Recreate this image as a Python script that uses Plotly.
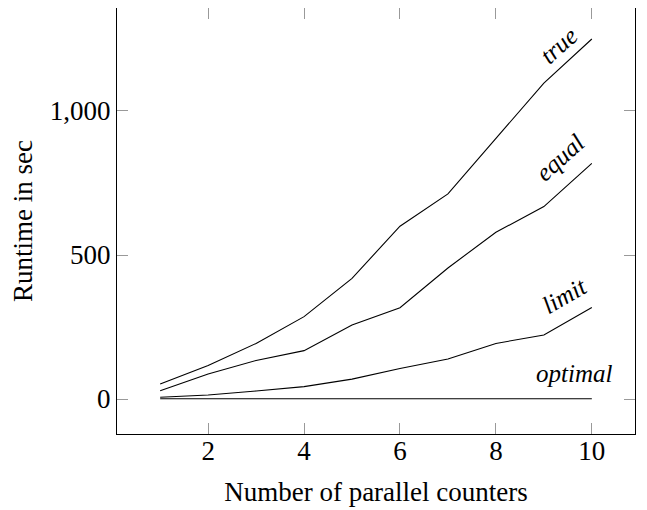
import plotly.graph_objects as go

counters = [1, 2, 3, 4, 5, 6, 7, 8, 9, 10]
true_rt = [52, 116, 193, 286, 419, 600, 712, 903, 1097, 1250]
equal_rt = [29, 87, 134, 168, 257, 317, 455, 579, 668, 818]
limit_rt = [6, 14, 28, 43, 69, 106, 139, 193, 222, 318]
optimal_rt = [1, 1, 1, 1, 1, 1, 1, 1, 1, 1]

series = [("true", true_rt, -42, -33, -7),
          ("equal", equal_rt, -42, -32, 6),
          ("limit", limit_rt, -30, -27, 12),
          ("optimal", optimal_rt, 0, -18, 25)]

font = "Liberation Serif, Times New Roman, serif"
fig = go.Figure()
annotations = []
for name, ys, ang, dx, dy in series:
    fig.add_trace(go.Scatter(x=counters, y=ys, mode="lines", name=name,
                             line=dict(color="black", width=1.1)))
    annotations.append(dict(x=counters[-1], y=ys[-1], xref="x", yref="y",
                            text="<i>%s</i>" % name, showarrow=False,
                            xanchor="center", yanchor="middle",
                            textangle=ang, xshift=dx, yshift=dy,
                            font=dict(family=font, size=25, color="black")))

axis_common = dict(showline=True, linecolor="black", linewidth=1.2, mirror="ticks",
                   ticks="inside", ticklen=11, tickcolor="#999", tickwidth=1,
                   showgrid=False, zeroline=False, automargin=False,
                   tickfont=dict(family=font, size=27, color="black"))

# page body has an 8px margin; figure sized to fit the window
fig.update_layout(
    width=639, height=502,
    margin=dict(l=109, r=12, t=0, b=76),
    paper_bgcolor="white", plot_bgcolor="white",
    showlegend=False,
    annotations=annotations,
    xaxis=dict(range=[0.1, 10.9], tickvals=[2, 4, 6, 8, 10], ticklabelstandoff=-8,
               title=dict(text="Number of parallel counters", standoff=17,
                          font=dict(family=font, size=27, color="black")),
               **axis_common),
    yaxis=dict(range=[-121.5, 1357.6], tickvals=[0, 500, 1000], tickformat=",d",
               title=dict(text="Runtime in sec", standoff=10,
                          font=dict(family=font, size=27, color="black")),
               **axis_common),
)
fig.write_html("out.html")
